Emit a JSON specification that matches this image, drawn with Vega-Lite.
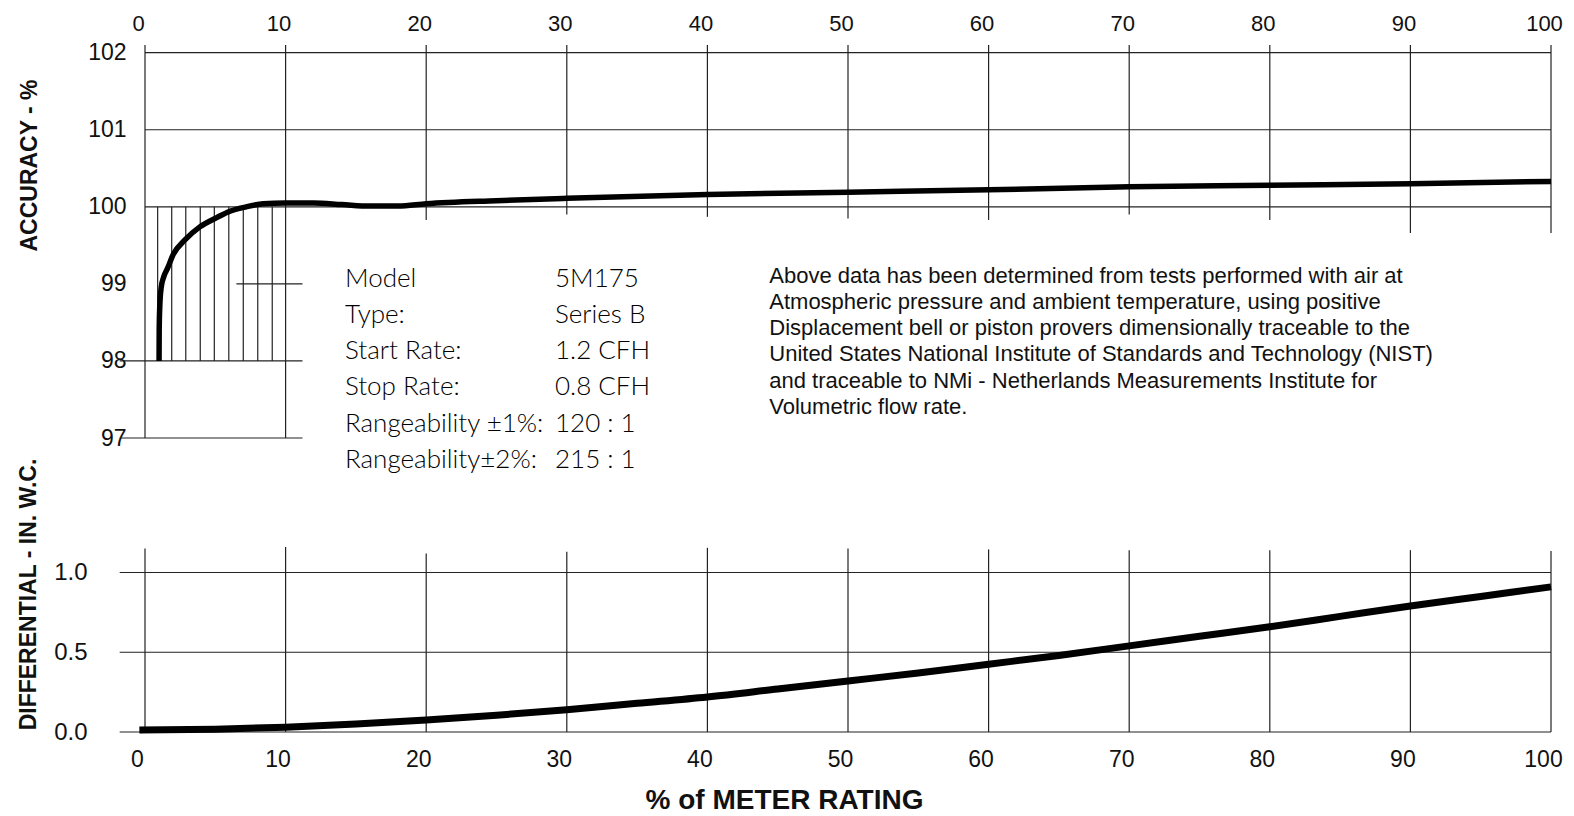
{
  "$schema": "https://vega.github.io/schema/vega-lite/v6.json",
  "background": "white",
  "padding": {"left": 17, "top": 12, "right": 5, "bottom": 0},
  "bounds": "flush",
  "spacing": 109,
  "config": {
    "view": {"stroke": null},
    "axis": {
      "grid": false, "domain": false, "ticks": false,
      "labelFont": "Liberation Sans", "labelColor": "#111",
      "titleFont": "Liberation Sans", "titleColor": "#111", "titleFontWeight": "bold",
      "labelOverlap": false, "labelFlush": false
    }
  },
  "datasets": {
    "topH": [
      {"y": 102, "x": 0, "xe": 100},
      {"y": 101, "x": 0, "xe": 100},
      {"y": 100, "x": 0, "xe": 100},
      {"y": 99, "x": 6.5, "xe": 11.2},
      {"y": 98, "x": -1.8, "xe": 11.2},
      {"y": 97, "x": -1.8, "xe": 11.2}
    ],
    "topV": [
      {"x": 0, "y": 97, "ye": 102.1},
      {"x": 10, "y": 97, "ye": 102.1},
      {"x": 20, "y": 99.83, "ye": 102.1},
      {"x": 30, "y": 99.9, "ye": 102.1},
      {"x": 40, "y": 99.87, "ye": 102.1},
      {"x": 50, "y": 99.85, "ye": 102.1},
      {"x": 60, "y": 99.83, "ye": 102.1},
      {"x": 70, "y": 99.9, "ye": 102.1},
      {"x": 80, "y": 99.83, "ye": 102.1},
      {"x": 90, "y": 99.66, "ye": 102.1},
      {"x": 100, "y": 99.66, "ye": 102.1},
      {"x": 0.9, "y": 98, "ye": 100},
      {"x": 1.9, "y": 98, "ye": 100},
      {"x": 2.9, "y": 98, "ye": 100},
      {"x": 3.93, "y": 98, "ye": 100},
      {"x": 4.93, "y": 98, "ye": 100},
      {"x": 5.96, "y": 98, "ye": 100},
      {"x": 6.99, "y": 98, "ye": 100},
      {"x": 8.02, "y": 98, "ye": 100},
      {"x": 9.05, "y": 98, "ye": 100}
    ],
    "accuracy": [
      {"x": 1.0, "y": 98.0},
      {"x": 1.01, "y": 98.4},
      {"x": 1.05, "y": 98.7},
      {"x": 1.15, "y": 98.95},
      {"x": 1.35, "y": 99.1},
      {"x": 1.6, "y": 99.2},
      {"x": 2.0, "y": 99.38},
      {"x": 2.84, "y": 99.57},
      {"x": 3.9, "y": 99.74},
      {"x": 5.1, "y": 99.86},
      {"x": 6.0, "y": 99.94},
      {"x": 7.2, "y": 100.0},
      {"x": 8.4, "y": 100.04},
      {"x": 10, "y": 100.05},
      {"x": 12, "y": 100.05},
      {"x": 14, "y": 100.03},
      {"x": 16, "y": 100.01},
      {"x": 18, "y": 100.01},
      {"x": 20, "y": 100.04},
      {"x": 25, "y": 100.08},
      {"x": 30, "y": 100.11},
      {"x": 40, "y": 100.16},
      {"x": 50, "y": 100.19},
      {"x": 60, "y": 100.22},
      {"x": 70, "y": 100.26},
      {"x": 80, "y": 100.28},
      {"x": 90, "y": 100.3},
      {"x": 100, "y": 100.33}
    ],
    "specLabels": [
      {"x": 14.22, "y": 99.065, "t": "Model"},
      {"x": 14.22, "y": 98.597, "t": "Type:"},
      {"x": 14.22, "y": 98.13, "t": "Start Rate:"},
      {"x": 14.22, "y": 97.662, "t": "Stop Rate:"},
      {"x": 14.22, "y": 97.182, "t": "Rangeability ±1%:"},
      {"x": 14.22, "y": 96.714, "t": "Rangeability±2%:"}
    ],
    "specValues": [
      {"x": 29.16, "y": 99.065, "t": "5M175"},
      {"x": 29.16, "y": 98.597, "t": "Series B"},
      {"x": 29.16, "y": 98.13, "t": "1.2 CFH"},
      {"x": 29.16, "y": 97.662, "t": "0.8 CFH"},
      {"x": 29.16, "y": 97.182, "t": "120 : 1"},
      {"x": 29.16, "y": 96.714, "t": "215 : 1"}
    ],
    "note": [
      {"x": 44.4, "y": 99.104, "t": "Above data has been determined from tests performed with air at"},
      {"x": 44.4, "y": 98.766, "t": "Atmospheric pressure and ambient temperature, using positive"},
      {"x": 44.4, "y": 98.429, "t": "Displacement bell or piston provers dimensionally traceable to the"},
      {"x": 44.4, "y": 98.091, "t": "United States National Institute of Standards and Technology (NIST)"},
      {"x": 44.4, "y": 97.74, "t": "and traceable to NMi - Netherlands Measurements Institute for"},
      {"x": 44.4, "y": 97.403, "t": "Volumetric flow rate."}
    ],
    "botH": [
      {"y": 1.0, "x": -1.8, "xe": 100},
      {"y": 0.5, "x": -1.8, "xe": 100},
      {"y": 0.0, "x": -1.8, "xe": 100}
    ],
    "botV": [
      {"x": 0, "y": 0, "ye": 1.15},
      {"x": 10, "y": 0, "ye": 1.16},
      {"x": 20, "y": 0, "ye": 1.12},
      {"x": 30, "y": 0, "ye": 1.13},
      {"x": 40, "y": 0, "ye": 1.155},
      {"x": 50, "y": 0, "ye": 1.15},
      {"x": 60, "y": 0, "ye": 1.145},
      {"x": 70, "y": 0, "ye": 1.14},
      {"x": 80, "y": 0, "ye": 1.14},
      {"x": 90, "y": 0, "ye": 1.14},
      {"x": 100, "y": 0, "ye": 1.135}
    ],
    "differential": [
      {"x": -0.4, "y": 0.012},
      {"x": 5, "y": 0.018},
      {"x": 10, "y": 0.03},
      {"x": 15, "y": 0.05},
      {"x": 20, "y": 0.075},
      {"x": 25, "y": 0.105},
      {"x": 30, "y": 0.14},
      {"x": 35, "y": 0.18},
      {"x": 40, "y": 0.22},
      {"x": 45, "y": 0.27},
      {"x": 50, "y": 0.32},
      {"x": 55, "y": 0.37},
      {"x": 60, "y": 0.425},
      {"x": 65, "y": 0.48},
      {"x": 70, "y": 0.54},
      {"x": 75, "y": 0.6},
      {"x": 80, "y": 0.66},
      {"x": 85, "y": 0.725},
      {"x": 90, "y": 0.79},
      {"x": 95, "y": 0.85},
      {"x": 100, "y": 0.91}
    ]
  },
  "vconcat": [
    {
      "width": 1406,
      "height": 393,
      "encoding": {
        "x": {"field": "x", "type": "quantitative",
          "scale": {"domain": [0, 100], "nice": false, "zero": false},
          "axis": {"orient": "top", "values": [0, 10, 20, 30, 40, 50, 60, 70, 80, 90, 100],
            "labelFontSize": 22, "labelPadding": 10, "labelOffset": -7, "title": null}},
        "y": {"field": "y", "type": "quantitative",
          "scale": {"domain": [97, 102.1], "nice": false, "zero": false},
          "axis": {"values": [97, 98, 99, 100, 101, 102], "labelFontSize": 23, "labelPadding": 19,
            "title": "ACCURACY - %", "titleFontSize": 23, "titleAngle": -90,
            "titleBaseline": "alphabetic", "titleAlign": "center", "titleX": -109, "titleY": 120}}
      },
      "layer": [
        {
          "data": {"name": "topH"},
          "mark": {"type": "rule", "color": "#222", "strokeWidth": 1.2},
          "encoding": {"x2": {"field": "xe"}}
        },
        {
          "data": {"name": "topV"},
          "mark": {"type": "rule", "color": "#222", "strokeWidth": 1.2},
          "encoding": {"y2": {"field": "ye"}}
        },
        {
          "data": {"name": "accuracy"},
          "mark": {"type": "line", "color": "#000", "strokeWidth": 5.5, "interpolate": "monotone", "strokeCap": "butt"},
          "encoding": {}
        },
        {
          "data": {"name": "specLabels"},
          "mark": {"type": "text", "font": "Lato", "fontSize": 26, "fontWeight": 300, "align": "left", "baseline": "middle", "color": "#000"},
          "encoding": {"text": {"field": "t"}}
        },
        {
          "data": {"name": "specValues"},
          "mark": {"type": "text", "font": "Lato", "fontSize": 26, "fontWeight": 300, "align": "left", "baseline": "middle", "color": "#000"},
          "encoding": {"text": {"field": "t"}}
        },
        {
          "data": {"name": "note"},
          "mark": {"type": "text", "font": "Liberation Sans", "fontSize": 22, "align": "left", "baseline": "middle", "color": "#111"},
          "encoding": {"text": {"field": "t"}}
        }
      ]
    },
    {
      "width": 1406,
      "height": 185,
      "encoding": {
        "x": {"field": "x", "type": "quantitative",
          "scale": {"domain": [0, 100], "nice": false, "zero": false},
          "axis": {"orient": "bottom", "values": [0, 10, 20, 30, 40, 50, 60, 70, 80, 90, 100],
            "labelFontSize": 23, "labelPadding": 16, "labelOffset": -8,
            "title": "% of METER RATING", "titleFontSize": 28, "titleX": 639, "titleY": 76,
            "titleBaseline": "alphabetic", "titleAlign": "center"}},
        "y": {"field": "y", "type": "quantitative",
          "scale": {"domain": [0, 1.16], "nice": false, "zero": false},
          "axis": {"values": [0, 0.5, 1], "format": ".1f", "labelFontSize": 24, "labelPadding": 58,
            "title": "DIFFERENTIAL - IN. W.C.", "titleFontSize": 23, "titleAngle": -90,
            "titleBaseline": "alphabetic", "titleAlign": "center", "titleX": -110, "titleY": 47}}
      },
      "layer": [
        {
          "data": {"name": "botH"},
          "mark": {"type": "rule", "color": "#222", "strokeWidth": 1.2},
          "encoding": {"x2": {"field": "xe"}}
        },
        {
          "data": {"name": "botV"},
          "mark": {"type": "rule", "color": "#222", "strokeWidth": 1.2},
          "encoding": {"y2": {"field": "ye"}}
        },
        {
          "data": {"name": "differential"},
          "mark": {"type": "line", "color": "#000", "strokeWidth": 7, "interpolate": "monotone", "strokeCap": "butt"},
          "encoding": {}
        }
      ]
    }
  ]
}
